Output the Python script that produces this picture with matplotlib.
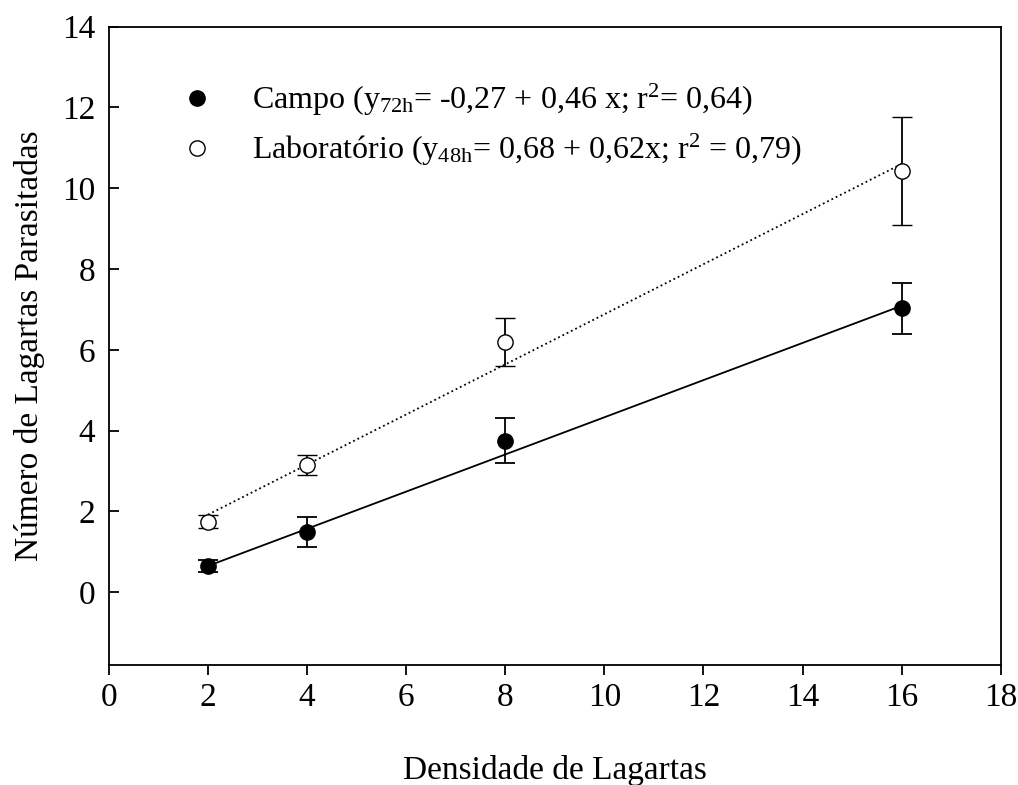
import numpy as np
import matplotlib.pyplot as plt
from matplotlib.ticker import MultipleLocator

plt.rcParams["font.family"] = ["Liberation Serif", "DejaVu Serif"]
plt.rcParams["mathtext.fontset"] = "custom"
plt.rcParams["mathtext.rm"] = "Liberation Serif"
plt.rcParams["mathtext.it"] = "Liberation Serif:italic"

# data
densidade = [2, 4, 8, 16]
campo_mean = [0.65, 1.50, 3.75, 7.03]
campo_err = [0.15, 0.37, 0.55, 0.63]
lab_mean = [1.75, 3.15, 6.20, 10.43]
lab_err = [0.17, 0.25, 0.60, 1.33]

# regression coefficients given in the legend
campo_fit = (-0.27, 0.46)
lab_fit = (0.68, 0.62)

campo_label = r"Campo (y$_{\mathrm{72h}}$= -0,27 + 0,46 x; r$^{\mathrm{2}}$= 0,64)"
lab_label = r"Laboratório (y$_{\mathrm{48h}}$= 0,68 + 0,62x; r$^{\mathrm{2}}$ = 0,79)"

fig, ax = plt.subplots(figsize=(10.18, 7.85), dpi=100)
fig.subplots_adjust(left=0.107, right=0.983, top=0.966, bottom=0.153)

x = np.array(densidade)
xl = np.array([x.min(), x.max()])
ax.plot(xl, campo_fit[0] + campo_fit[1] * xl, "-", color="black", lw=1.3)
ax.plot(xl, lab_fit[0] + lab_fit[1] * xl, ":", color="black", lw=1.3)

ax.errorbar(x, campo_mean, yerr=campo_err, fmt="o", color="black", mfc="black",
            mec="black", ms=11, ecolor="black", elinewidth=1.3, capsize=7,
            capthick=1.3, label=campo_label, zorder=3)
ax.errorbar(x, lab_mean, yerr=lab_err, fmt="o", color="black", mfc="white",
            mec="black", ms=11, mew=1, ecolor="black", elinewidth=1.3, capsize=7,
            capthick=1.3, label=lab_label, zorder=3)

ax.set_xlim(0, 18)
ax.set_ylim(-1.8, 14)
ax.xaxis.set_major_locator(MultipleLocator(2))
ax.yaxis.set_major_locator(MultipleLocator(2))
ax.tick_params(axis="x", direction="out", length=7, width=1.3, labelsize=24, pad=6)
ax.tick_params(axis="y", direction="in", length=7, width=1.3, labelsize=24, pad=10)
for s in ax.spines.values():
    s.set_linewidth(1.3)

ax.set_xlabel("Densidade de Lagartas", fontsize=24, labelpad=30)
ax.set_ylabel("Número de Lagartas Parasitadas", fontsize=24, labelpad=12)

handles, labels = ax.get_legend_handles_labels()
handles = [h[0] for h in handles]
ax.legend(handles, labels, loc="upper left", bbox_to_anchor=(0.066, 0.933),
          borderaxespad=0, frameon=False, fontsize=23, handlelength=1,
          handletextpad=1.25, labelspacing=0.42, numpoints=1)

fig.savefig("out.png", dpi=100)
